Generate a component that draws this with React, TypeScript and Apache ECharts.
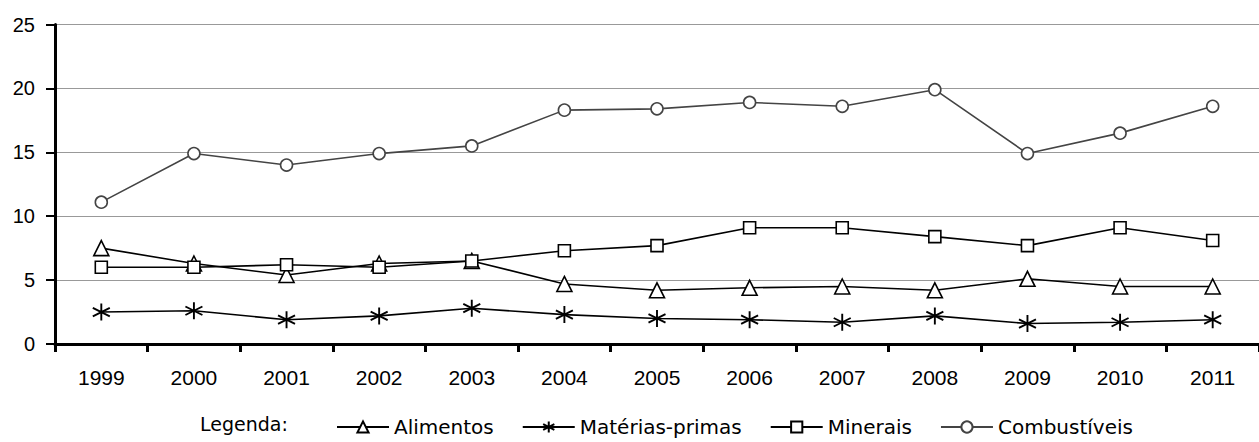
import React, { useEffect, useRef } from "react";
import * as echarts from "echarts";

const years = ["1999", "2000", "2001", "2002", "2003", "2004", "2005", "2006", "2007", "2008", "2009", "2010", "2011"];
const alimentos = [7.5, 6.3, 5.4, 6.3, 6.5, 4.7, 4.2, 4.4, 4.5, 4.2, 5.1, 4.5, 4.5];
const materiasPrimas = [2.5, 2.6, 1.9, 2.2, 2.8, 2.3, 2.0, 1.9, 1.7, 2.2, 1.6, 1.7, 1.9];
const minerais = [6.0, 6.0, 6.2, 6.0, 6.5, 7.3, 7.7, 9.1, 9.1, 8.4, 7.7, 9.1, 8.1];
const combustiveis = [11.1, 14.9, 14.0, 14.9, 15.5, 18.3, 18.4, 18.9, 18.6, 19.9, 14.9, 16.5, 18.6];
const seriesNames = ["Alimentos", "Matérias-primas", "Minerais", "Combustíveis"];
const yTicks = { min: 0, max: 25, interval: 5 };

const FONT = "'Liberation Sans', Arial, sans-serif";
const LEGEND_FONT = "'DejaVu Sans', sans-serif";
const ASTERISK = "path://M5,0 L5,10 M0.7,2.5 L9.3,7.5 M0.7,7.5 L9.3,2.5";

export default function App() {
  const ref = useRef<HTMLDivElement>(null);
  useEffect(() => {
    if (!ref.current) return;
    const chart = echarts.init(ref.current, null, { renderer: "svg" });
    const mk = (name: string, data: number[], symbol: string, size: number, color: string, fill: string, bw = 1.6) => ({
      name,
      type: "line",
      data,
      symbol,
      symbolSize: size,
      showSymbol: true,
      lineStyle: { color, width: 1.6 },
      itemStyle: { color: fill, borderColor: color, borderWidth: bw },
      emphasis: { disabled: true },
    });
    chart.setOption({
      animation: false,
      textStyle: { fontFamily: FONT },
      grid: { left: 55, top: 24.5, width: 1213, height: 319.5 },
      xAxis: {
        type: "category",
        data: years,
        boundaryGap: true,
        axisLine: { show: true, lineStyle: { color: "#000", width: 3 } },
        axisTick: { show: true, length: 8, lineStyle: { color: "#000", width: 3 } },
        axisLabel: { color: "#000", fontSize: 21, margin: 23, fontFamily: FONT },
        splitLine: { show: false },
      },
      yAxis: {
        type: "value",
        min: yTicks.min,
        max: yTicks.max,
        interval: yTicks.interval,
        axisLine: { show: true, lineStyle: { color: "#000", width: 3 } },
        axisTick: { show: true, length: 9, lineStyle: { color: "#000", width: 2 } },
        axisLabel: { color: "#000", fontSize: 20, margin: 20, fontFamily: FONT },
        splitLine: { show: true, lineStyle: { color: "#999", width: 1 } },
      },
      legend: {
        data: seriesNames,
        left: 336,
        top: 417,
        padding: 0,
        itemWidth: 52,
        itemHeight: 14,
        itemGap: 28,
        textStyle: { color: "#000", fontSize: 20, fontFamily: LEGEND_FONT },
        selectedMode: false,
      },
      graphic: [
        {
          type: "text",
          left: 200,
          top: 414,
          style: { text: "Legenda:", fontSize: 19, fill: "#000", fontFamily: LEGEND_FONT },
        },
      ],
      series: [
        mk(seriesNames[0], alimentos, "triangle", 15, "#000", "#fff"),
        mk(seriesNames[1], materiasPrimas, ASTERISK, 17, "#000", "#000", 1.9),
        mk(seriesNames[2], minerais, "rect", 12, "#000", "#fff"),
        mk(seriesNames[3], combustiveis, "circle", 12, "#444", "#fff"),
      ],
    });
    return () => chart.dispose();
  }, []);
  return (
    <div
      ref={ref}
      style={{ position: "absolute", left: 0, top: 0, width: 1259, height: 442, background: "#fff" }}
    />
  );
}
